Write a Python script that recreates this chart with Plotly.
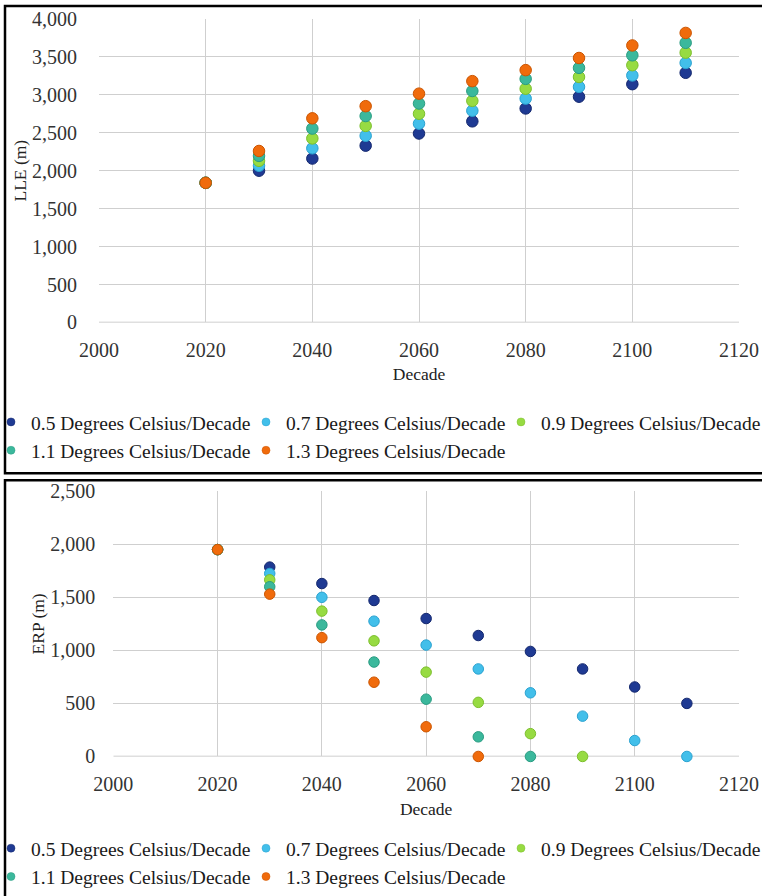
import plotly.graph_objects as go

W, H = 762, 896

decades = [2020, 2030, 2040, 2050, 2060, 2070, 2080, 2090, 2100, 2110]
series_names = [
    "0.5 Degrees Celsius/Decade",
    "0.7 Degrees Celsius/Decade",
    "0.9 Degrees Celsius/Decade",
    "1.1 Degrees Celsius/Decade",
    "1.3 Degrees Celsius/Decade",
]

# LLE (m)
lle_05 = [1840, 2000, 2160, 2330, 2490, 2650, 2820, 2975, 3140, 3290]
lle_07 = [1840, 2065, 2295, 2460, 2620, 2790, 2950, 3105, 3255, 3420]
lle_09 = [1840, 2130, 2425, 2590, 2750, 2920, 3080, 3235, 3390, 3555]
lle_11 = [1840, 2195, 2555, 2720, 2885, 3050, 3210, 3355, 3520, 3685]
lle_13 = [1840, 2260, 2690, 2850, 3015, 3180, 3325, 3485, 3650, 3815]

# ERP (m)
erp_05 = [1950, 1785, 1630, 1470, 1300, 1140, 990, 825, 655, 500]
erp_07 = [1950, 1725, 1500, 1275, 1050, 825, 600, 380, 150, 0]
erp_09 = [1950, 1665, 1370, 1090, 795, 510, 215, 0, None, None]
erp_11 = [1950, 1600, 1240, 890, 540, 185, 0, None, None, None]
erp_13 = [1950, 1530, 1120, 700, 280, 0, None, None, None, None]

x_ticks = [2000, 2020, 2040, 2060, 2080, 2100, 2120]

colors = ["#1F3A93", "#42BFEA", "#97DB42", "#3BB89C", "#F06B0C"]
edges = ["#14286E", "#2AA2D0", "#7CBF2C", "#2A9C82", "#CC5500"]

FONT = "Liberation Serif"

def px_x(p):
    return p / W

def px_y(p):
    return 1 - p / H

fig = go.Figure()

lle = [lle_05, lle_07, lle_09, lle_11, lle_13]
erp = [erp_05, erp_07, erp_09, erp_11, erp_13]

for i in range(5):
    fig.add_trace(go.Scatter(
        x=decades, y=lle[i], mode="markers", xaxis="x", yaxis="y",
        marker=dict(size=11.5, color=colors[i], line=dict(width=1, color=edges[i])),
        showlegend=False, cliponaxis=False, name=series_names[i]))
for i in range(5):
    fig.add_trace(go.Scatter(
        x=decades, y=erp[i], mode="markers", xaxis="x2", yaxis="y2",
        marker=dict(size=10.5, color=colors[i], line=dict(width=1, color=edges[i])),
        showlegend=False, cliponaxis=False, name=series_names[i]))
# legend entries
for leg, xa, ya in [("legend", "x", "y"), ("legend2", "x2", "y2")]:
    for i in range(5):
        fig.add_trace(go.Scatter(
            x=[None], y=[None], mode="markers", xaxis=xa, yaxis=ya,
            marker=dict(size=8, color=colors[i], line=dict(width=0.5, color=edges[i])),
            name=series_names[i], legend=leg, showlegend=True))

grid = "#CFCFCF"
tickfont = dict(family=FONT, size=20, color="#333333")
titlefont = dict(family=FONT, size=17.5, color="#222222")

common_x = dict(range=[2000, 2120], tickvals=x_ticks, showgrid=True, gridcolor=grid,
                gridwidth=1.3, zeroline=False, showline=False, ticks="",
                tickfont=tickfont, automargin=False, ticklabelstandoff=14,
                fixedrange=True)
common_y = dict(showgrid=True, gridcolor=grid, gridwidth=1.3, zeroline=False,
                showline=False, ticks="", tickfont=tickfont, automargin=False,
                tickformat=",d", fixedrange=True)

legfont = dict(family=FONT, size=19.5, color="#1A1A1A")

fig.update_layout(
    width=W, height=H,
    margin=dict(l=0, r=0, t=0, b=0),
    paper_bgcolor="white", plot_bgcolor="white",
    font=dict(family=FONT),
    xaxis=dict(common_x, domain=[px_x(99), px_x(739)], anchor="y",
               title=dict(text="Decade", font=titlefont, standoff=7)),
    yaxis=dict(common_y, domain=[px_y(324.3), px_y(19)], anchor="x",
               range=[0, 4000], dtick=500, ticklabelstandoff=21,
               title=dict(text="LLE (m)", font=titlefont, standoff=0)),
    xaxis2=dict(common_x, domain=[px_x(113.3), px_x(739)], anchor="y2",
                title=dict(text="Decade", font=titlefont, standoff=8)),
    yaxis2=dict(common_y, domain=[px_y(760.7), px_y(494)], anchor="x2",
                range=[0, 2500], dtick=500, ticklabelstandoff=17,
                title=dict(text="ERP (m)", font=titlefont, standoff=1)),
    legend=dict(orientation="h", x=0, xanchor="left", y=px_y(405), yanchor="top",
                font=legfont, entrywidth=219, entrywidthmode="pixels", indentation=-9,
                itemsizing="trace", bgcolor="rgba(0,0,0,0)", tracegroupgap=0),
    legend2=dict(orientation="h", x=0, xanchor="left", y=px_y(834), yanchor="top",
                 font=legfont, entrywidth=219, entrywidthmode="pixels", indentation=-9,
                 itemsizing="trace", bgcolor="rgba(0,0,0,0)", tracegroupgap=0),
    shapes=[
        dict(type="rect", xref="paper", yref="paper",
             x0=px_x(5), x1=1.02, y0=px_y(476), y1=px_y(6),
             line=dict(color="black", width=2.5), fillcolor="rgba(0,0,0,0)", layer="above"),
        dict(type="rect", xref="paper", yref="paper",
             x0=px_x(5), x1=1.02, y0=-0.02, y1=px_y(483),
             line=dict(color="black", width=2.5), fillcolor="rgba(0,0,0,0)", layer="above"),
        dict(type="line", xref="x", yref="y", x0=2000, x1=2120, y0=0, y1=0,
             line=dict(color="#BFBFBF", width=1.5), layer="below"),
        dict(type="line", xref="x2", yref="y2", x0=2000, x1=2120, y0=0, y1=0,
             line=dict(color="#BFBFBF", width=1.5), layer="below"),
    ],
)

fig.write_html("out.html", config={"displayModeBar": False},
               post_script="document.body.style.margin='0';document.body.style.overflow='hidden';")
